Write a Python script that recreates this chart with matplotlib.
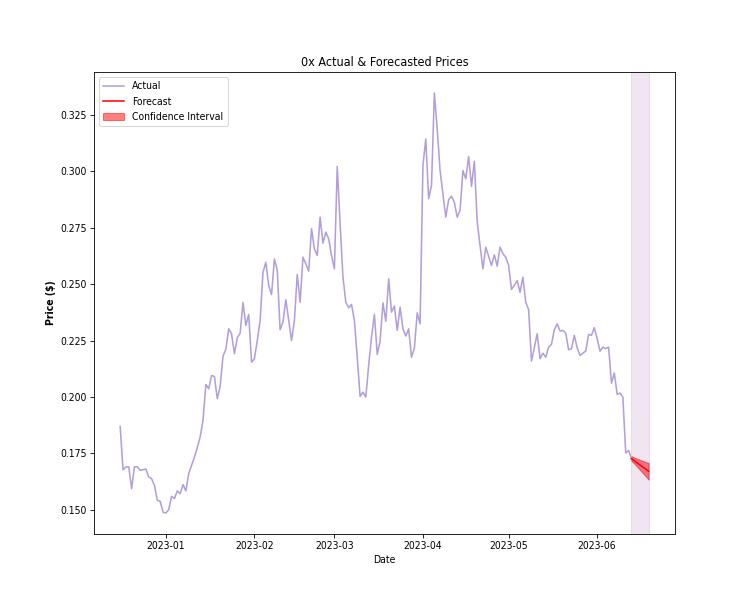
import matplotlib
matplotlib.use("Agg")
import matplotlib.pyplot as plt
import pandas as pd

# daily closing prices, starting 2022-12-16
actual_start = "2022-12-16"
actual_prices = [
    0.1869, 0.1677, 0.1689, 0.1690, 0.1593, 0.1690, 0.1690, 0.1674, 0.1677, 0.1680,
    0.1645, 0.1637, 0.1608, 0.1541, 0.1537, 0.1489, 0.1485, 0.1500, 0.1559, 0.1549,
    0.1583, 0.1571, 0.1611, 0.1583, 0.1660, 0.1696, 0.1733, 0.1775, 0.1822, 0.1896,
    0.2055, 0.2036, 0.2094, 0.2091, 0.1992, 0.2047, 0.2181, 0.2211, 0.2302, 0.2280,
    0.2192, 0.2262, 0.2283, 0.2418, 0.2317, 0.2366, 0.2154, 0.2169, 0.2250, 0.2339,
    0.2553, 0.2597, 0.2494, 0.2454, 0.2612, 0.2561, 0.2298, 0.2332, 0.2431, 0.2339,
    0.2250, 0.2339, 0.2543, 0.2420, 0.2620, 0.2590, 0.2558, 0.2746, 0.2657, 0.2627,
    0.2797, 0.2682, 0.2731, 0.2701, 0.2627, 0.2568, 0.3022, 0.2768, 0.2531, 0.2420,
    0.2395, 0.2410, 0.2339, 0.2176, 0.2002, 0.2021, 0.1999, 0.2140, 0.2265, 0.2366,
    0.2188, 0.2247, 0.2417, 0.2335, 0.2524, 0.2376, 0.2403, 0.2295, 0.2398, 0.2302,
    0.2270, 0.2302, 0.2176, 0.2216, 0.2373, 0.2324, 0.3026, 0.3144, 0.2879, 0.2938,
    0.3348, 0.3189, 0.3004, 0.2901, 0.2797, 0.2875, 0.2890, 0.2863, 0.2797, 0.2827,
    0.3004, 0.2967, 0.3066, 0.2934, 0.3045, 0.2775, 0.2672, 0.2568, 0.2664, 0.2624,
    0.2583, 0.2630, 0.2580, 0.2664, 0.2635, 0.2620, 0.2583, 0.2477, 0.2495, 0.2516,
    0.2464, 0.2531, 0.2420, 0.2387, 0.2159, 0.2218, 0.2280, 0.2169, 0.2194, 0.2176,
    0.2221, 0.2233, 0.2298, 0.2324, 0.2292, 0.2295, 0.2283, 0.2209, 0.2214, 0.2273,
    0.2218, 0.2184, 0.2194, 0.2203, 0.2277, 0.2273, 0.2307, 0.2258, 0.2203, 0.2221,
    0.2214, 0.2221, 0.2061, 0.2106, 0.2011, 0.2017, 0.1999, 0.1751, 0.1763, 0.1726,
]

forecast_start = "2023-06-13"
forecast_prices = [0.1726, 0.1717, 0.1707, 0.1698, 0.1689, 0.1680, 0.1670]
lower_ci = [0.1716, 0.1704, 0.1690, 0.1676, 0.1662, 0.1648, 0.1633]
upper_ci = [0.1737, 0.1731, 0.1726, 0.1721, 0.1716, 0.1711, 0.1707]

actual_dates = pd.date_range(actual_start, periods=len(actual_prices), freq="D")
forecast_dates = pd.date_range(forecast_start, periods=len(forecast_prices), freq="D")

# the reference text is narrower than plain DejaVu, use the condensed cut
plt.rcParams["font.family"] = ["DejaVu Sans"]
plt.rcParams["font.stretch"] = "condensed"

fig, ax = plt.subplots(figsize=(10, 8), dpi=75)

ax.plot(actual_dates, actual_prices, color="#b39ddb", label="Actual")
ax.plot(forecast_dates, forecast_prices, color="red", label="Forecast")
ax.fill_between(forecast_dates, lower_ci, upper_ci, color="red", alpha=0.5,
                label="Confidence Interval")
# highlight the forecast window
ax.axvspan(forecast_dates[0], forecast_dates[-1], color="purple", alpha=0.1)

ax.set_title("0x Actual & Forecasted Prices")
ax.set_xlabel("Date")
ax.set_ylabel("Price ($)", fontweight="bold")
ax.legend(loc="upper left")

fig.savefig("out.png", dpi=75)
